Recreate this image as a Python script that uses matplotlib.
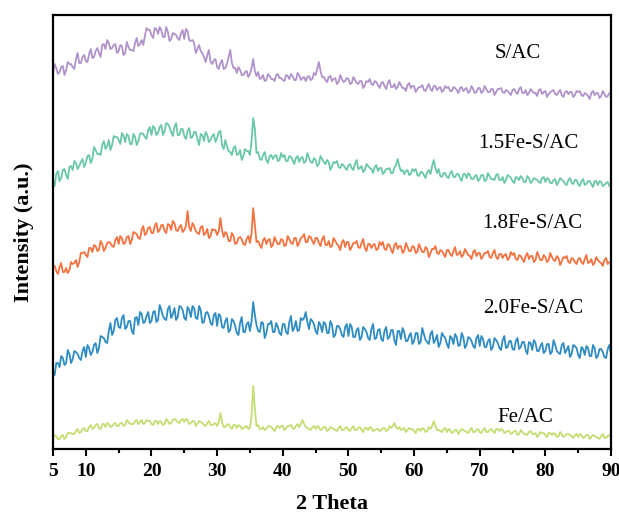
import numpy as np
import matplotlib
matplotlib.use("Agg")
import matplotlib.pyplot as plt

plt.rcParams['font.family'] = ['Liberation Serif', 'DejaVu Serif']

# 2-theta scan positions (deg): whole/half steps and the quarter steps between
two_theta = np.arange(5, 90.1, 0.25)

# intensities (a.u., already offset for stacking) at 5.0, 5.5, ... 90.0
s_ac = [
    376, 381, 377, 383, 379, 385, 382, 390, 386, 392,
    388, 395, 391, 398, 396, 404, 400, 406, 401, 405,
    398, 403, 396, 402, 399, 406, 403, 409, 413, 419,
    414, 421, 415, 419, 412, 417, 410, 415, 411, 416,
    410, 418, 408, 406, 400, 398, 392, 394, 387, 389,
    382, 386, 380, 385, 399, 381, 376, 379, 374, 378,
    375, 390, 373, 370, 374, 369, 373, 370, 374, 371,
    369, 374, 370, 373, 369, 374, 371, 368, 373, 370,
    374, 387, 372, 369, 372, 368, 371, 367, 370, 368,
    370, 366, 369, 365, 368, 364, 367, 365, 368, 364,
    366, 363, 366, 362, 365, 362, 364, 361, 364, 361,
    363, 360, 362, 359, 362, 360, 363, 359, 362, 359,
    361, 358, 362, 359, 361, 358, 361, 358, 360, 357,
    361, 358, 360, 357, 360, 357, 360, 357, 359, 356,
    359, 357, 360, 356, 359, 356, 358, 356, 359, 355,
    358, 355, 358, 355, 357, 354, 357, 355, 357, 354,
    357, 354, 356, 353, 356, 354, 356, 353, 355, 353,
    355,
]
# at 5.25, 5.75, ... 89.75
s_ac_mid = [
    385, 375, 382, 374, 387, 385, 380, 396, 386, 394,
    387, 400, 392, 401, 392, 405, 409, 400, 404, 396,
    404, 394, 407, 399, 398, 411, 405, 404, 421, 419,
    411, 420, 422, 412, 422, 408, 416, 414, 409, 419,
    420, 409, 409, 396, 404, 396, 387, 399, 385, 390,
    380, 389, 381, 392, 386, 381, 382, 374, 377, 372,
    381, 378, 377, 371, 368, 375, 370, 368, 375, 371,
    368, 373, 375, 369, 376, 369, 372, 372, 369, 376,
    380, 378, 372, 367, 373, 370, 365, 374, 367, 371,
    365, 372, 366, 368, 361, 368, 370, 364, 367, 361,
    367, 360, 369, 362, 360, 367, 361, 358, 366, 363,
    357, 362, 364, 358, 365, 358, 363, 361, 357, 363,
    362, 358, 361, 356, 362, 360, 356, 363, 356, 361,
    356, 363, 357, 360, 354, 360, 361, 356, 358, 354,
    360, 355, 362, 356, 354, 360, 356, 353, 360, 357,
    352, 357, 359, 354, 359, 352, 358, 357, 352, 358,
    358, 353, 355, 350, 358, 356, 351, 358, 352, 356,
]
fe15_s_ac = [
    270, 275, 268, 279, 274, 282, 279, 286, 283, 290,
    286, 294, 290, 299, 295, 304, 300, 309, 304, 312,
    309, 316, 307, 313, 305, 312, 308, 316, 312, 319,
    314, 321, 316, 324, 318, 325, 317, 322, 314, 320,
    313, 318, 311, 317, 310, 315, 308, 314, 309, 315,
    311, 318, 300, 303, 297, 301, 294, 299, 293, 298,
    294, 331, 296, 290, 294, 289, 293, 290, 294, 289,
    292, 288, 293, 289, 291, 287, 292, 288, 291, 286,
    289, 285, 290, 285, 287, 283, 286, 282, 285, 281,
    284, 281, 285, 280, 283, 279, 283, 280, 282, 278,
    281, 277, 280, 276, 281, 290, 278, 275, 279, 275,
    278, 274, 277, 274, 277, 275, 289, 276, 273, 276,
    272, 276, 272, 275, 271, 275, 271, 274, 270, 274,
    270, 274, 269, 273, 270, 274, 269, 272, 269, 273,
    268, 272, 269, 271, 267, 271, 268, 270, 267, 271,
    267, 270, 266, 270, 267, 269, 265, 269, 266, 269,
    265, 268, 264, 268, 265, 268, 264, 267, 264, 267,
    265,
]
fe15_s_ac_mid = [
    263, 278, 271, 280, 270, 283, 288, 280, 287, 282,
    293, 286, 302, 295, 294, 308, 303, 299, 313, 312,
    305, 313, 315, 305, 315, 304, 315, 315, 310, 322,
    323, 314, 322, 314, 326, 322, 313, 326, 314, 320,
    310, 321, 312, 317, 304, 314, 317, 307, 313, 307,
    317, 304, 309, 298, 294, 303, 295, 289, 300, 298,
    308, 320, 297, 289, 297, 286, 294, 293, 288, 296,
    294, 288, 292, 285, 293, 291, 286, 296, 287, 291,
    283, 293, 287, 289, 279, 287, 288, 281, 284, 279,
    285, 279, 289, 281, 277, 285, 281, 276, 284, 281,
    275, 280, 281, 276, 284, 283, 279, 278, 274, 280,
    280, 273, 277, 271, 279, 283, 281, 280, 272, 276,
    271, 278, 272, 275, 268, 275, 276, 270, 273, 268,
    274, 268, 276, 270, 269, 275, 269, 266, 274, 271,
    266, 271, 273, 267, 273, 266, 271, 269, 266, 272,
    271, 266, 269, 264, 271, 268, 264, 271, 265, 269,
    263, 270, 265, 268, 262, 268, 268, 263, 266, 263,
]
fe18_s_ac = [
    183, 178, 182, 177, 181, 179, 185, 189, 187, 196,
    194, 201, 197, 203, 199, 205, 201, 207, 203, 209,
    205, 211, 206, 213, 209, 216, 211, 219, 214, 221,
    216, 223, 217, 224, 218, 225, 219, 226, 218, 224,
    219, 238, 218, 223, 216, 222, 214, 220, 213, 219,
    214, 231, 212, 215, 208, 213, 206, 212, 205, 210,
    206, 241, 207, 204, 209, 205, 210, 204, 208, 205,
    209, 204, 210, 205, 211, 206, 212, 207, 213, 208,
    211, 206, 210, 204, 208, 203, 208, 203, 207, 202,
    207, 202, 206, 202, 206, 201, 205, 201, 205, 200,
    204, 200, 205, 199, 204, 200, 203, 198, 202, 198,
    202, 197, 201, 197, 200, 196, 200, 196, 199, 195,
    199, 195, 198, 194, 198, 194, 197, 193, 197, 193,
    196, 193, 196, 192, 196, 192, 195, 191, 195, 191,
    194, 190, 194, 190, 193, 190, 193, 189, 193, 189,
    192, 189, 192, 188, 191, 188, 191, 187, 191, 187,
    190, 187, 190, 186, 190, 186, 189, 186, 189, 185,
    187,
]
fe18_s_ac_mid = [
    183, 175, 186, 177, 176, 187, 186, 182, 196, 197,
    192, 201, 204, 198, 208, 198, 206, 206, 202, 212,
    213, 205, 212, 205, 217, 215, 210, 223, 216, 222,
    216, 226, 219, 224, 216, 224, 228, 219, 222, 217,
    223, 222, 226, 218, 215, 223, 216, 211, 220, 219,
    218, 219, 217, 208, 216, 205, 211, 210, 204, 213,
    216, 224, 208, 201, 211, 209, 202, 212, 205, 210,
    203, 213, 206, 211, 203, 211, 215, 207, 212, 205,
    211, 203, 213, 204, 202, 211, 205, 199, 209, 207,
    199, 206, 208, 201, 210, 198, 205, 204, 199, 207,
    207, 199, 204, 196, 206, 203, 196, 206, 198, 203,
    196, 205, 197, 202, 192, 200, 203, 195, 198, 192,
    199, 193, 202, 195, 192, 200, 194, 190, 199, 196,
    190, 196, 198, 191, 199, 190, 195, 194, 189, 197,
    196, 189, 193, 187, 196, 193, 187, 197, 189, 194,
    187, 196, 189, 193, 184, 192, 193, 186, 190, 185,
    191, 185, 194, 187, 184, 192, 187, 183, 191, 187,
]
fe20_s_ac = [
    78, 86, 82, 91, 86, 95, 90, 97, 91, 98,
    92, 101, 97, 106, 101, 112, 107, 118, 114, 129,
    122, 131, 120, 128, 118, 131, 124, 135, 127, 137,
    128, 138, 129, 139, 130, 140, 131, 141, 132, 142,
    131, 142, 132, 141, 130, 139, 127, 137, 126, 134,
    123, 133, 121, 131, 119, 128, 116, 126, 117, 125,
    118, 147, 124, 117, 126, 116, 125, 117, 126, 116,
    125, 117, 127, 118, 128, 119, 129, 137, 120, 128,
    118, 127, 117, 125, 116, 124, 114, 123, 114, 122,
    113, 122, 112, 121, 112, 120, 111, 120, 110, 119,
    110, 118, 110, 119, 109, 118, 110, 117, 108, 116,
    108, 116, 107, 115, 107, 115, 106, 114, 106, 113,
    105, 113, 105, 112, 104, 112, 104, 111, 103, 111,
    103, 110, 102, 110, 102, 109, 101, 109, 101, 108,
    100, 108, 100, 107, 99, 107, 99, 106, 98, 106,
    98, 105, 97, 104, 96, 104, 96, 103, 95, 103,
    94, 102, 94, 101, 93, 101, 93, 100, 92, 100,
    95,
]
fe20_s_ac_mid = [
    74, 86, 93, 84, 99, 86, 98, 95, 89, 102,
    104, 94, 104, 96, 113, 111, 106, 126, 118, 131,
    121, 134, 122, 128, 115, 132, 137, 126, 133, 126,
    137, 127, 144, 133, 129, 143, 135, 129, 143, 139,
    129, 139, 143, 131, 143, 126, 136, 133, 124, 136,
    135, 122, 128, 117, 130, 123, 114, 132, 117, 127,
    128, 134, 118, 127, 111, 125, 128, 117, 122, 114,
    125, 115, 133, 121, 118, 131, 131, 127, 130, 125,
    115, 124, 127, 116, 128, 112, 123, 120, 112, 125,
    125, 112, 119, 109, 122, 117, 109, 125, 111, 120,
    108, 122, 112, 119, 104, 118, 121, 108, 113, 105,
    116, 105, 121, 109, 105, 118, 109, 102, 116, 111,
    101, 111, 115, 103, 116, 101, 112, 108, 101, 114,
    113, 102, 108, 99, 111, 106, 99, 113, 102, 108,
    99, 111, 102, 107, 95, 106, 109, 98, 103, 96,
    105, 95, 109, 98, 95, 106, 99, 92, 104, 101,
    91, 100, 103, 93, 104, 91, 100, 97, 91, 104,
]
fe_ac = [
    10, 13, 10, 14, 12, 16, 15, 18, 16, 20,
    18, 22, 20, 24, 21, 25, 22, 25, 23, 26,
    23, 26, 24, 27, 25, 28, 25, 29, 26, 28,
    25, 28, 25, 27, 25, 28, 26, 30, 27, 29,
    27, 29, 26, 28, 25, 27, 24, 26, 24, 25,
    23, 36, 22, 24, 22, 24, 21, 23, 21, 23,
    21, 63, 23, 20, 22, 20, 23, 20, 22, 21,
    23, 21, 23, 21, 23, 22, 29, 22, 20, 22,
    20, 22, 20, 22, 19, 21, 19, 21, 19, 21,
    19, 21, 19, 21, 19, 21, 19, 21, 19, 20,
    19, 21, 19, 21, 26, 20, 19, 21, 19, 20,
    18, 20, 18, 20, 18, 20, 28, 19, 18, 20,
    17, 19, 17, 19, 18, 19, 17, 19, 17, 19,
    17, 19, 17, 19, 18, 20, 18, 19, 17, 18,
    16, 18, 15, 17, 15, 17, 15, 16, 14, 16,
    14, 16, 14, 15, 13, 15, 13, 15, 13, 14,
    12, 14, 12, 14, 12, 13, 11, 13, 11, 13,
    12,
]
fe_ac_mid = [
    14, 10, 13, 10, 16, 16, 15, 20, 17, 21,
    18, 24, 21, 25, 20, 25, 26, 22, 25, 23,
    26, 23, 29, 25, 25, 29, 27, 25, 29, 28,
    24, 28, 28, 24, 30, 25, 29, 29, 26, 30,
    30, 25, 28, 23, 28, 26, 23, 28, 24, 26,
    27, 27, 22, 25, 20, 24, 24, 20, 22, 20,
    33, 40, 24, 20, 19, 23, 22, 18, 23, 23,
    19, 23, 24, 20, 25, 25, 25, 21, 19, 23,
    23, 19, 22, 18, 22, 20, 18, 23, 19, 22,
    18, 23, 19, 22, 17, 21, 22, 18, 20, 18,
    21, 18, 23, 23, 22, 22, 20, 17, 21, 20,
    16, 20, 21, 17, 22, 23, 23, 19, 17, 21,
    20, 16, 19, 15, 20, 18, 16, 21, 17, 20,
    16, 21, 17, 20, 16, 20, 20, 16, 18, 15,
    18, 14, 19, 15, 14, 18, 15, 12, 17, 16,
    12, 16, 16, 12, 17, 12, 15, 14, 11, 15,
    15, 11, 14, 10, 14, 12, 10, 15, 11, 14,
]


def merge(main, mid):
    out = np.empty(len(main) + len(mid))
    out[0::2] = main
    out[1::2] = mid
    return out


series = [
    (merge(s_ac, s_ac_mid), 'S/AC', '#b092cb', 75.8, 396),
    (merge(fe15_s_ac, fe15_s_ac_mid), '1.5Fe-S/AC', '#6ac8a6', 77.4, 306),
    (merge(fe18_s_ac, fe18_s_ac_mid), '1.8Fe-S/AC', '#f4723f', 78.0, 226),
    (merge(fe20_s_ac, fe20_s_ac_mid), '2.0Fe-S/AC', '#2f8cc2', 78.1, 141),
    (merge(fe_ac, fe_ac_mid), 'Fe/AC', '#c4dd72', 76.9, 32),
]

fig = plt.figure(figsize=(6.19, 5.22), dpi=100)
ax = fig.add_axes([0.0856, 0.1398, 0.9015, 0.8314])

for vals, name, col, tx, ty in series:
    ax.plot(two_theta, vals, color=col, lw=1.3)
    ax.text(tx, ty, name, fontsize=15, ha='center', va='center')

ax.set_xlim(5, 90)
ax.set_ylim(0, 434)
ax.set_xticks([5, 10, 20, 30, 40, 50, 60, 70, 80, 90])
ax.set_xticks(np.arange(15, 90, 10), minor=True)
ax.set_yticks([])
for lbl in ax.get_xticklabels():
    lbl.set_fontweight('bold')
ax.tick_params(axis='x', which='major', direction='out', length=5, width=1.5,
               labelsize=14, pad=5)
ax.tick_params(axis='x', which='minor', direction='out', length=3, width=1.5)
for sp in ax.spines.values():
    sp.set_linewidth(1.6)

ax.set_xlabel('2 Theta', fontsize=16, fontweight='bold', labelpad=10)
ax.set_ylabel('Intensity (a.u.)', fontsize=16, fontweight='bold', labelpad=14)

fig.savefig('out.png', dpi=100)
